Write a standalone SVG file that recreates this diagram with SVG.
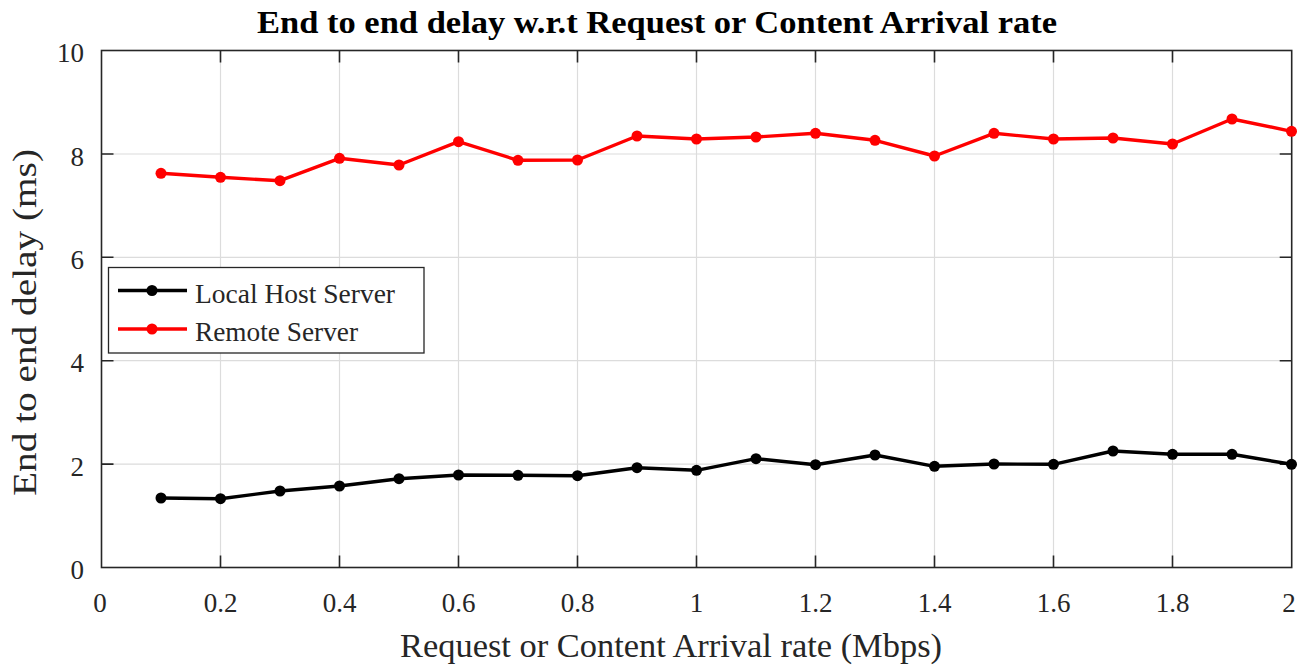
<svg xmlns="http://www.w3.org/2000/svg" width="1309" height="668" viewBox="0 0 1309 668">
  <style>
    .grid { stroke: #dcdcdc; stroke-width: 1.2; fill: none; }
    .axis { stroke: #262626; stroke-width: 1.6; fill: none; }
    .tick { stroke: #262626; stroke-width: 1.6; }
    .lbl { font-family: "Liberation Serif", "Times New Roman", serif; font-size: 27px; fill: #262626; }
    .title { font-family: "Liberation Serif", "Times New Roman", serif; font-size: 32px; font-weight: bold; fill: #000; }
    .axlbl { font-family: "Liberation Serif", "Times New Roman", serif; font-size: 33px; fill: #262626; }
    .series { fill: none; stroke-width: 3.4; stroke-linejoin: round; }
  </style>
  <defs>
    <marker id="dotK" markerUnits="userSpaceOnUse" markerWidth="12" markerHeight="12" refX="6" refY="6" viewBox="0 0 12 12">
      <circle cx="6" cy="6" r="5.5" fill="#000"/>
    </marker>
    <marker id="dotR" markerUnits="userSpaceOnUse" markerWidth="12" markerHeight="12" refX="6" refY="6" viewBox="0 0 12 12">
      <circle cx="6" cy="6" r="5.5" fill="#ff0000"/>
    </marker>
  </defs>
  <rect width="1309" height="668" fill="#fff"/>

  <text class="title" x="657" y="33" text-anchor="middle" textLength="800" lengthAdjust="spacingAndGlyphs">End to end delay w.r.t Request or Content Arrival rate</text>

  <!-- grid -->
  <g id="grid" class="grid">
    <path d="M220.5 50.5V567.5M339.5 50.5V567.5M458.5 50.5V567.5M577.5 50.5V567.5M696.5 50.5V567.5M815.5 50.5V567.5M934.5 50.5V567.5M1053.5 50.5V567.5M1172.5 50.5V567.5"/>
    <path d="M101.5 154H1291.7M101.5 257.3H1291.7M101.5 360.7H1291.7M101.5 464.1H1291.7"/>
  </g>

  <!-- axes box and ticks -->
  <g id="axes">
    <rect class="axis" x="101.5" y="50.5" width="1190.2" height="517"/>
    <path class="tick" d="M220.5 567.5v-12M339.5 567.5v-12M458.5 567.5v-12M577.5 567.5v-12M696.5 567.5v-12M815.5 567.5v-12M934.5 567.5v-12M1053.5 567.5v-12M1172.5 567.5v-12"/>
    <path class="tick" d="M220.5 50.5v12M339.5 50.5v12M458.5 50.5v12M577.5 50.5v12M696.5 50.5v12M815.5 50.5v12M934.5 50.5v12M1053.5 50.5v12M1172.5 50.5v12"/>
    <path class="tick" d="M101.5 154h12M101.5 257.3h12M101.5 360.7h12M101.5 464.1h12"/>
    <path class="tick" d="M1291.7 154h-12M1291.7 257.3h-12M1291.7 360.7h-12M1291.7 464.1h-12"/>
  </g>

  <!-- tick labels -->
  <g id="ylabels" class="lbl" text-anchor="end">
    <text x="84" y="62">10</text>
    <text x="84" y="165.5">8</text>
    <text x="84" y="269">6</text>
    <text x="84" y="372">4</text>
    <text x="84" y="475.5">2</text>
    <text x="84" y="579">0</text>
  </g>
  <g id="xlabels" class="lbl" text-anchor="middle">
    <text x="100" y="612">0</text>
    <text x="220.5" y="612">0.2</text>
    <text x="339.5" y="612">0.4</text>
    <text x="458.5" y="612">0.6</text>
    <text x="577.5" y="612">0.8</text>
    <text x="696.5" y="612">1</text>
    <text x="815.5" y="612">1.2</text>
    <text x="934.5" y="612">1.4</text>
    <text x="1053.5" y="612">1.6</text>
    <text x="1172.5" y="612">1.8</text>
    <text x="1289" y="612">2</text>
  </g>

  <text class="axlbl" x="671" y="657" text-anchor="middle" textLength="542" lengthAdjust="spacingAndGlyphs">Request or Content Arrival rate (Mbps)</text>
  <text class="axlbl" transform="translate(36 322.5) rotate(-90)" text-anchor="middle" textLength="347" lengthAdjust="spacingAndGlyphs">End to end delay (ms)</text>

  <!-- data series -->
  <g id="connectors">
    <polyline id="remote" class="series" stroke="#ff0000" marker-start="url(#dotR)" marker-mid="url(#dotR)" marker-end="url(#dotR)"
      points="161,173.3 220.5,177.3 280,180.7 339.5,158.3 399,165 458.5,141.7 518,160.3 577.5,160 637,136 696.5,139 756,137 815.5,133.3 875,140.3 934.5,156 994,133.3 1053.5,139 1113,138 1172.5,144 1232,119 1291.5,131.3"/>
    <polyline id="local" class="series" stroke="#000" marker-start="url(#dotK)" marker-mid="url(#dotK)" marker-end="url(#dotK)"
      points="161,498 220.5,498.7 280,491 339.5,486 399,478.7 458.5,475 518,475.3 577.5,475.7 637,467.7 696.5,470.3 756,458.7 815.5,464.7 875,455 934.5,466.3 994,464 1053.5,464.3 1113,451 1172.5,454.3 1232,454.3 1291.5,464.3"/>
  </g>

  <!-- legend -->
  <g id="legend">
    <rect x="108.5" y="267.5" width="315.5" height="85.5" fill="#fff" stroke="#262626" stroke-width="1.3"/>
    <line x1="118" y1="290.5" x2="187" y2="290.5" stroke="#000" stroke-width="3.4"/>
    <circle cx="152" cy="290.5" r="5.5" fill="#000"/>
    <text class="lbl" x="195" y="303" textLength="200" lengthAdjust="spacingAndGlyphs">Local Host Server</text>
    <line x1="118" y1="329" x2="187" y2="329" stroke="#ff0000" stroke-width="3.4"/>
    <circle cx="152" cy="329" r="5.5" fill="#ff0000"/>
    <text class="lbl" x="195" y="341" textLength="163" lengthAdjust="spacingAndGlyphs">Remote Server</text>
  </g>
</svg>
